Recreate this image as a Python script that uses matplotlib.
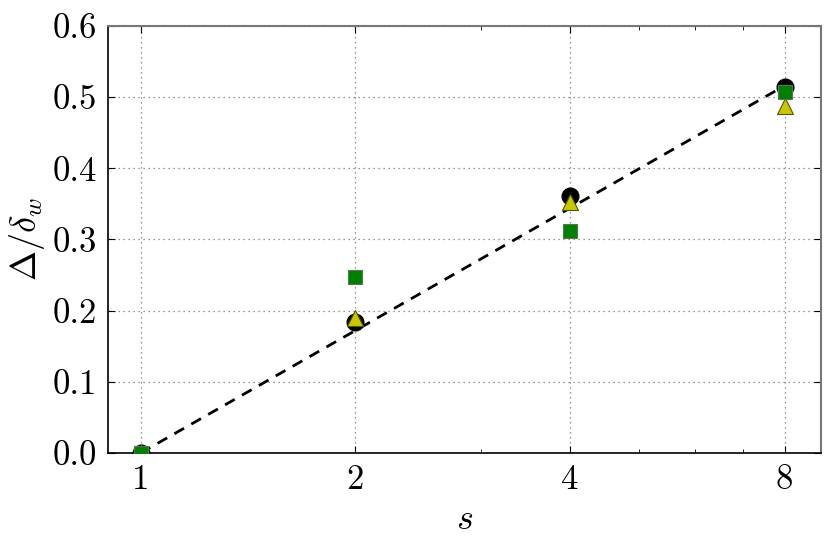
import numpy as np
import matplotlib.pyplot as plt
from matplotlib.ticker import FixedLocator, NullFormatter

plt.rcParams["font.family"] = "serif"
plt.rcParams["font.serif"] = ["cmr10"]
plt.rcParams["mathtext.fontset"] = "cm"
plt.rcParams["axes.formatter.use_mathtext"] = True

# data
s = [1, 2, 4, 8]
circle_y = [0.0, 0.184, 0.361, 0.514]
triangle_y = [0.0, 0.190, 0.352, 0.488]
square_y = [0.0, 0.248, 0.312, 0.507]
fit_s = [1, 8]
fit_y = [0.0, 0.516]

xticks = [1, 2, 4, 8]
xtick_labels = ["1", "2", "4", "8"]
yticks = [0.0, 0.1, 0.2, 0.3, 0.4, 0.5, 0.6]

fig = plt.figure(figsize=(8.3, 5.47), dpi=100)
ax = fig.add_axes([108 / 830, 1 - 453 / 547, (821 - 108) / 830, (453 - 26) / 547])

ax.plot(fit_s, fit_y, ls=(0, (4, 3)), color="black", lw=2.0, zorder=2)
ax.plot(s, circle_y, "o", ms=12, color="black", zorder=3)
ax.plot(s, triangle_y, "^", ms=11.5, mfc="#c8c800", mec="#555500", mew=0.8, zorder=4)
ax.plot(s, square_y, "s", ms=10, mfc="#008000", mec="#557755", mew=0.8, zorder=5)

ax.set_xscale("log", base=2)
ax.set_xlim(0.9, 9.0)
ax.set_ylim(0, 0.6)
ax.xaxis.set_major_locator(FixedLocator(xticks))
ax.set_xticklabels(xtick_labels)
ax.xaxis.set_minor_locator(FixedLocator([3, 5, 6, 7]))
ax.xaxis.set_minor_formatter(NullFormatter())
ax.set_yticks(yticks)
ax.set_yticklabels(["%.1f" % v for v in yticks])

ax.grid(True, which="major", ls=(0, (1, 3)), color="#777777", lw=0.9)
ax.tick_params(which="both", direction="in", top=True, right=True,
               labelsize=25, pad=8)
ax.tick_params(which="major", length=5)
ax.tick_params(which="minor", length=3)

for side in ["top", "right"]:
    ax.spines[side].set_color("#777777")
    ax.spines[side].set_linewidth(1.5)
for side in ["left", "bottom"]:
    ax.spines[side].set_linewidth(1.2)

ax.set_xlabel(r"$s$", fontsize=26, labelpad=6)
ax.set_ylabel(r"$\Delta/\delta_w$", fontsize=26, labelpad=4)

fig.savefig("out.png", dpi=100)
